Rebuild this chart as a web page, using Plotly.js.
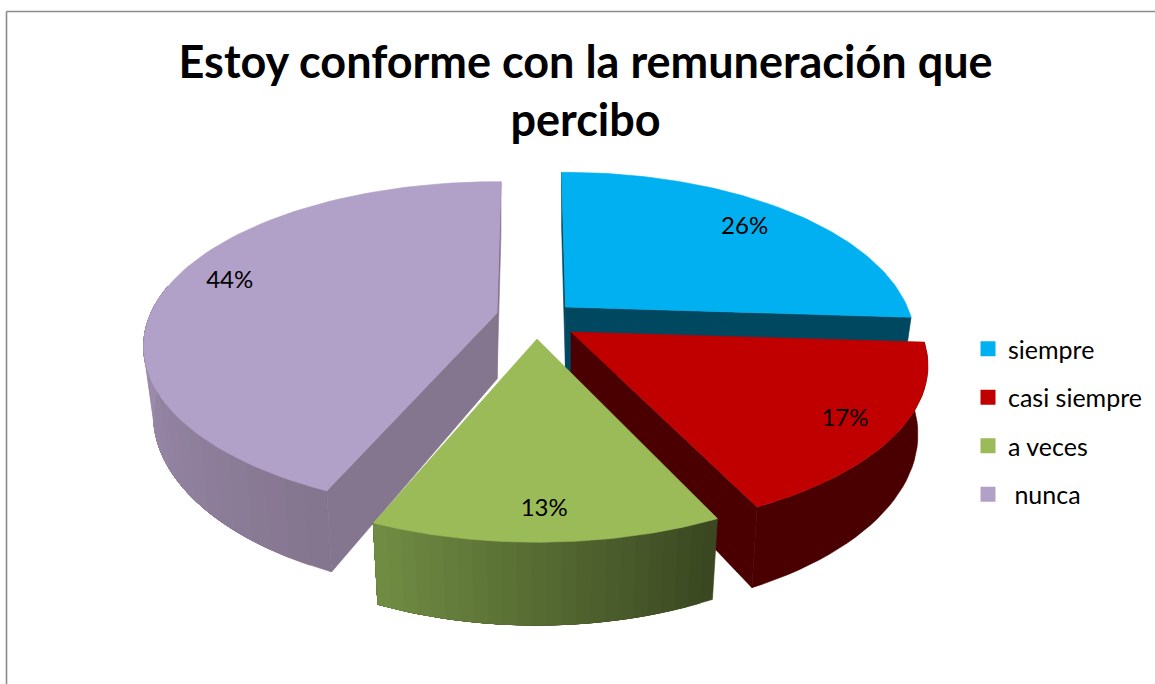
<!DOCTYPE html>
<html>
<head>
<meta charset="utf-8">
<script src="https://cdn.plot.ly/plotly-3.0.1.min.js"></script>
<style>html,body{margin:0;padding:0;background:#fff;overflow:hidden}#chart{width:1155px;height:684px}</style>
</head>
<body>
<div id="chart"></div>
<script>
// Data
var categories = ['siempre', 'casi siempre', 'a veces', ' nunca'];
var values = [26, 17, 13, 44];
var chartTitle = 'Estoy conforme con la remuneración que<br>percibo';

// Style
var topColors = ['#00B0F0', '#C00000', '#9BBB59', '#B1A0C7'];
var sideStart = ['#004760', '#4A0000', '#708C43', '#A090B4'];
var sideEnd   = ['#004760', '#4A0000', '#3A4721', '#85768F'];
var cutColors = ['#004760', '#4A0000', '#3A4721', '#85768F'];

// Projection of the exploded pie (page pixels)
var apexX = [565.5, 571, 537, 497];
var apexY = [307, 332, 339, 313];
var radiusScale = [0.988, 1.01, 1, 1];
var radiusYScale = [1, 0.98, 1, 0.975];
var startTweak = [-0.8, 0, 0, 2];
var endTweak = [0, -0.6, 1, 0.8];
var radiusX = 346, radiusY = 162, perspective = 0.203, depth = 66, bottomShrink = 0.972;
var labelRadius = [0.78, 0.87, 0.86, 0.84];
var labelShift = [0, 0, 0, 5];
var labelNudgeX = [5, -6, -1, -3];
var labelNudgeY = [0, 3, 2, 6];

var total = values.reduce(function (a, b) { return a + b; }, 0);
function project(i, deg, frac, low) {
  var t = deg * Math.PI / 180;
  var u = Math.sin(t) * frac, v = -Math.cos(t) * frac;
  var s = 1 / (1 - perspective * v);
  return [apexX[i] + radiusX * radiusScale[i] * u * s * (low ? bottomShrink : 1),
          apexY[i] + radiusY * radiusYScale[i] * v * s + (low ? depth * s : 0)];
}
function hex(c) { return [1, 3, 5].map(function (k) { return parseInt(c.substr(k, 2), 16); }); }
function mix(a, b, f) {
  var p = hex(a), q = hex(b);
  return 'rgb(' + p.map(function (x, k) { return Math.round(x + (q[k] - x) * f); }).join(',') + ')';
}
function poly(pts, color) {
  return {
    type: 'scatter', mode: 'lines', x: pts.map(function (p) { return p[0]; }).concat([pts[0][0]]),
    y: pts.map(function (p) { return p[1]; }).concat([pts[0][1]]),
    fill: 'toself', fillcolor: color, line: { color: color, width: 0.6 },
    hoverinfo: 'skip', showlegend: false
  };
}

var starts = [], ends = [], acc = 0;
values.forEach(function (v, i) {
  starts.push(acc / total * 360 + startTweak[i]);
  acc += v;
  ends.push(acc / total * 360 + endTweak[i]);
});

function cutFace(i, deg) {
  return poly([project(i, deg, 0, false), project(i, deg, 1, false), project(i, deg, 1, true), project(i, deg, 0, true)], cutColors[i]);
}
// Each strip runs from its own start to the far end and paints over the last one, so no seams show.
function wall(i, a, b, strips) {
  var out = [];
  for (var k = 0; k < strips; k++) {
    var a0 = a + (b - a) * k / strips, pts = [], n = 30;
    for (var j = 0; j <= n; j++) pts.push(project(i, a0 + (b - a0) * j / n, 1, false));
    for (j = n; j >= 0; j--) pts.push(project(i, a0 + (b - a0) * j / n, 1, true));
    var f = (strips - 1 - k) / Math.max(1, strips - 1);
    out.push(poly(pts, mix(sideStart[i], sideEnd[i], f)));
  }
  return out;
}
function topFace(i) {
  var pts = [project(i, starts[i], 0, false)], n = 80;
  for (var j = 0; j <= n; j++) pts.push(project(i, starts[i] + (ends[i] - starts[i]) * j / n, 1, false));
  return poly(pts, topColors[i]);
}

var traces = [];
// blue: only its cut faces show
traces.push(cutFace(0, ends[0]));
traces.push(cutFace(0, starts[0]));
traces.push(topFace(0));
// purple
traces.push(cutFace(3, ends[3]));
traces = traces.concat(wall(3, starts[3], 280, 22));
traces.push(cutFace(3, starts[3]));
traces.push(topFace(3));
// red
traces.push(cutFace(1, ends[1]));
traces = traces.concat(wall(1, starts[1], ends[1], 1));
traces.push(topFace(1));
// green
traces = traces.concat(wall(2, starts[2], ends[2], 24));
traces.push(topFace(2));

// percentage labels
var lx = [], ly = [], lt = [];
values.forEach(function (v, i) {
  var p = project(i, (starts[i] + ends[i]) / 2 + labelShift[i], labelRadius[i], false);
  lx.push(p[0] + labelNudgeX[i]); ly.push(p[1] + labelNudgeY[i]); lt.push(Math.round(v / total * 100) + '%');
});
traces.push({
  type: 'scatter', mode: 'text', x: lx, y: ly, text: lt, textposition: 'middle center',
  textfont: { family: 'Lato, sans-serif', size: 24, color: '#000' }, hoverinfo: 'skip', showlegend: false
});

// legend keys
categories.forEach(function (c, i) {
  traces.push({
    type: 'scatter', mode: 'markers', x: [-500], y: [-500], name: c, legendgroup: 'g' + i,
    marker: { symbol: 'square', size: 15, color: topColors[i] }, hoverinfo: 'skip', showlegend: true
  });
});

var layout = {
  width: 1155, height: 684,
  margin: { l: 0, r: 0, t: 0, b: 0 },
  paper_bgcolor: '#fff', plot_bgcolor: '#fff',
  title: { text: chartTitle, x: 0.507, xanchor: 'center', y: 0.886, yanchor: 'bottom',
           font: { family: 'Lato, sans-serif', size: 45, color: '#000', weight: 700 } },
  xaxis: { range: [0, 1155], visible: false, fixedrange: true },
  yaxis: { range: [684, 0], visible: false, fixedrange: true },
  showlegend: true,
  legend: { x: 968 / 1155, y: 1 - 326 / 684, xanchor: 'left', yanchor: 'top', traceorder: 'grouped',
            tracegroupgap: 13, itemwidth: 30, bgcolor: 'rgba(0,0,0,0)',
            font: { family: 'Lato, sans-serif', size: 25, color: '#000' } },
  shapes: [
    { type: 'line', xref: 'x', yref: 'y', x0: 6.5, x1: 1155, y0: 11.5, y1: 11.5, line: { color: '#8A8A8A', width: 1.6 } },
    { type: 'line', xref: 'x', yref: 'y', x0: 6.5, x1: 6.5, y0: 11.5, y1: 684, line: { color: '#8A8A8A', width: 1.6 } }
  ]
};
Plotly.newPlot('chart', traces, layout, { displayModeBar: false, staticPlot: true });
</script>
</body>
</html>
